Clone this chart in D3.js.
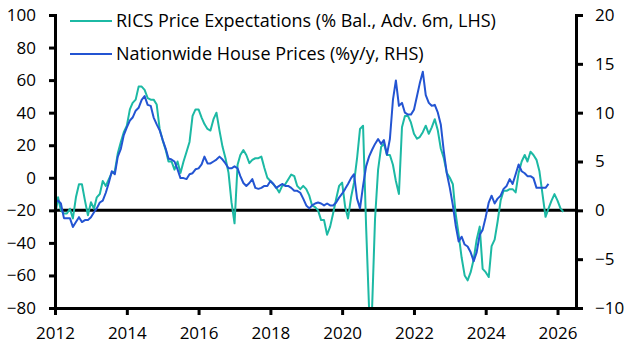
<!DOCTYPE html>
<html>
<head>
<meta charset="utf-8">
<script src="https://cdn.jsdelivr.net/npm/d3@7"></script>
<style>
  body { margin: 0; background: #fff; }
  svg text { font-family: "Open Sans", "Noto Sans", sans-serif; fill: #000; }
  .axis path, .axis line { stroke: #000; stroke-width: 3; }
  .axis text { font-size: 17px; }
  .legend text { font-size: 18px; }
</style>
</head>
<body>
<svg id="chart" width="633" height="358"></svg>
<script>
const chartSize = { width: 633, height: 358 };
const margin = { left: 55, right: 57, top: 15, bottom: 50 };
const width = chartSize.width - margin.left - margin.right;
const height = chartSize.height - margin.top - margin.bottom;

// monthly, starting Jan 2012
const ricsStart = [2012, 0];
const ricsValues = [
  -24, -12, -20, -22, -22, -19, -25, -12, -4, -4, -14, -23,
  -15, -19, -12, -10, -2, -5, -1, 3, 4, 15, 22, 28,
  32, 42, 46, 48, 56, 56, 54, 49, 48, 48, 45, 30,
  23, 17, 10, 10, 5, 10, 3, 10, 16, 22, 38, 42,
  42, 37, 33, 30, 29, 36, 40, 29, 19, 12, 3, -15,
  -28, 8, 14, 17, 14, 9, 11, 12, 12, 13, 6, 0,
  -2, -4, -6, -9, -5, -4, -1, 2, 1, -5, -7, -5,
  -7, -11, -17, -18, -20, -26, -26, -35, -30, -22, -13, -5,
  -3, -18, -25, -12, -3, 12, 30, 32, -30, -80, -80, -25,
  5, 19, 21, 14, 14, 8, -2, -10, 31, 38, 38, 34,
  27, 24, 25, 28, 32, 27, 31, 36, 29, 18, 12, 3,
  0, -4, -22, -35, -49, -60, -63, -58, -50, -38, -30, -56,
  -58, -61, -42, -38, -27, -14, -8, -8, -7, -7, -9, 3,
  10, 14, 10, 16, 14, 11, 4, -10, -24, -19, -14, -10,
  -14, -19, -21
];

const nationwideStart = [2012, 0];
const nationwideValues = [
  0.8, 1.0, 0.7, -0.8, -0.8, -0.8, -1.7, -1.2, -0.7, -1.2, -1.0, -1.0,
  -0.7, -0.2, 0.2, 0.8, 1.0, 1.8, 2.8, 4.0, 3.7, 5.5, 6.3, 7.7,
  8.5, 9.2, 9.5, 10.2, 10.5, 11.3, 11.7, 10.8, 10.7, 9.5, 8.8, 8.2,
  7.2, 6.3, 5.3, 5.2, 5.0, 4.2, 3.3, 3.3, 3.2, 3.7, 3.8, 4.2,
  4.3, 4.7, 5.5, 4.8, 4.8, 5.0, 5.2, 5.5, 5.2, 4.8, 4.3, 4.3,
  4.5, 4.3, 3.5, 2.8, 2.5, 2.8, 3.2, 2.3, 2.2, 2.3, 2.5, 2.5,
  3.0, 2.7, 2.3, 2.5, 2.7, 2.5, 2.5, 2.3, 2.0, 2.0, 1.8, 1.2,
  0.5, 0.2, 0.5, 0.7, 0.8, 0.7, 0.5, 0.7, 0.5, 0.5, 0.8, 1.3,
  1.7, 2.2, 2.7, 3.3, 3.7, 1.2, 0.2, 2.5, 4.5, 5.5, 6.2, 6.8,
  7.3, 6.8, 7.2, 5.7, 7.3, 11.3, 13.3, 10.7, 11.0, 10.0, 9.8, 9.8,
  10.3, 11.7, 13.0, 14.2, 11.8, 11.0, 10.7, 10.8, 10.0, 8.8, 6.0, 3.8,
  2.3, 0.5, -1.5, -3.2, -2.7, -3.5, -3.7, -4.3, -5.2, -4.3, -2.5, -2.0,
  -0.7, 0.8, 1.5, 0.7, 1.2, 1.5, 2.2, 2.5, 3.2, 2.7, 3.7, 4.7,
  4.0, 3.8, 3.5, 3.5, 3.3, 2.3, 2.3, 2.3, 2.3, 2.7
];

const leftTicks = [-80, -60, -40, -20, 0, 20, 40, 60, 80, 100];
const rightTicks = [-10, -5, 0, 5, 10, 15, 20];
const yearTicks = [2012, 2014, 2016, 2018, 2020, 2022, 2024, 2026];

const legendItems = [
  { label: "RICS Price Expectations (% Bal., Adv. 6m, LHS)", color: "#1cb9a4" },
  { label: "Nationwide House Prices (%y/y, RHS)", color: "#2354d2" }
];

const toSeries = (start, values) =>
  values.map((v, i) => ({ date: new Date(start[0], start[1] + i, 1), value: v }));

const drawChart = () => {
  const svg = d3.select("#chart");

  const x = d3
    .scaleTime()
    .domain([new Date(2012, 0, 1), new Date(2026, 6, 8)])
    .range([margin.left, margin.left + width]);

  const yLeft = d3
    .scaleLinear()
    .domain([-80, 100])
    .range([margin.top + height, margin.top]);

  const yRight = d3
    .scaleLinear()
    .domain([-10, 20])
    .range([margin.top + height, margin.top]);

  // zero line of the right axis
  svg.append("line")
    .attr("x1", margin.left)
    .attr("x2", margin.left + width)
    .attr("y1", yRight(0))
    .attr("y2", yRight(0))
    .attr("stroke", "#000")
    .attr("stroke-width", 3);

  const line = scale =>
    d3.line()
      .x(d => x(d.date))
      .y(d => scale(d.value));

  svg.append("path")
    .attr("fill", "none")
    .attr("stroke", legendItems[0].color)
    .attr("stroke-width", 2)
    .attr("stroke-linejoin", "round")
    .attr("d", line(yLeft)(toSeries(ricsStart, ricsValues)));

  svg.append("path")
    .attr("fill", "none")
    .attr("stroke", legendItems[1].color)
    .attr("stroke-width", 2)
    .attr("stroke-linejoin", "round")
    .attr("d", line(yRight)(toSeries(nationwideStart, nationwideValues)));

  const xAxis = d3.axisBottom(x)
    .tickValues(yearTicks.map(y => new Date(y, 0, 1)))
    .tickFormat(d3.timeFormat("%Y"))
    .tickSize(7)
    .tickSizeOuter(0)
    .tickPadding(12);

  svg.append("g")
    .attr("class", "x axis")
    .attr("transform", `translate(0,${margin.top + height})`)
    .call(xAxis);

  const leftAxis = d3.axisLeft(yLeft)
    .tickValues(leftTicks)
    .tickSize(6)
    .tickSizeOuter(0)
    .tickPadding(13);

  svg.append("g")
    .attr("class", "y axis")
    .attr("transform", `translate(${margin.left},0)`)
    .call(leftAxis);

  const rightAxis = d3.axisRight(yRight)
    .tickValues(rightTicks)
    .tickSize(7)
    .tickSizeOuter(0)
    .tickPadding(12);

  svg.append("g")
    .attr("class", "y axis")
    .attr("transform", `translate(${margin.left + width},0)`)
    .call(rightAxis);

  svg.selectAll(".axis .domain").attr("stroke-linecap", "square");

  const legend = svg.append("g").attr("class", "legend");
  legendItems.forEach((item, i) => {
    const yPos = 21 + i * 33;
    legend.append("line")
      .attr("x1", 70).attr("x2", 112)
      .attr("y1", yPos).attr("y2", yPos)
      .attr("stroke", item.color)
      .attr("stroke-width", 2);
    legend.append("text")
      .attr("x", 116)
      .attr("y", yPos)
      .attr("dy", "0.35em")
      .text(item.label);
  });
};

window.onload = drawChart;
</script>
</body>
</html>
